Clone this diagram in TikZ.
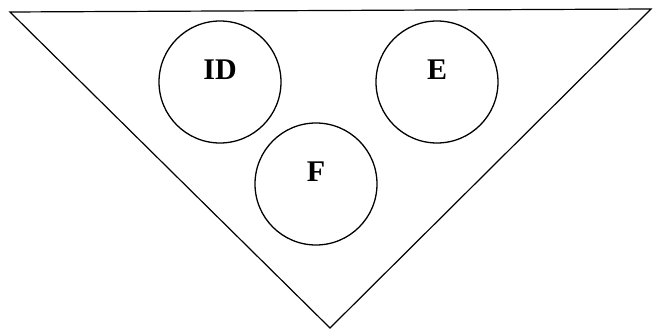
\documentclass[tikz,border=0pt]{standalone}
\usepackage{fontspec}
\setmainfont{Liberation Serif}
\usetikzlibrary{positioning}

\begin{document}
\begin{tikzpicture}[x=1pt, y=1pt,
    zone/.style={draw, circle, line width=1.3pt, minimum size=122pt, inner sep=0pt},
    zonelbl/.style={font=\fontsize{30}{30}\selectfont\bfseries, inner sep=0pt}]
\useasboundingbox (0,0) rectangle (653,329);
% outer triangle
\coordinate (tl) at (10,317);
\coordinate (tr) at (651,320);
\coordinate (bt) at (330,1);
\draw[line width=1.2pt, line join=miter] (tl) -- (tr) -- (bt) -- cycle;
% circles
\node[zone] (id) at (220,247) {};
\node[zone] (e) at (437,247) {};
\node[zone] (f) at (316,145) {};
\node[zonelbl] (idl) at ([yshift=12pt]id.center) {ID};
\node[zonelbl] (el) at ([yshift=12pt]e.center) {E};
\node[zonelbl] (fl) at ([yshift=12pt]f.center) {F};
\end{tikzpicture}
\end{document}
